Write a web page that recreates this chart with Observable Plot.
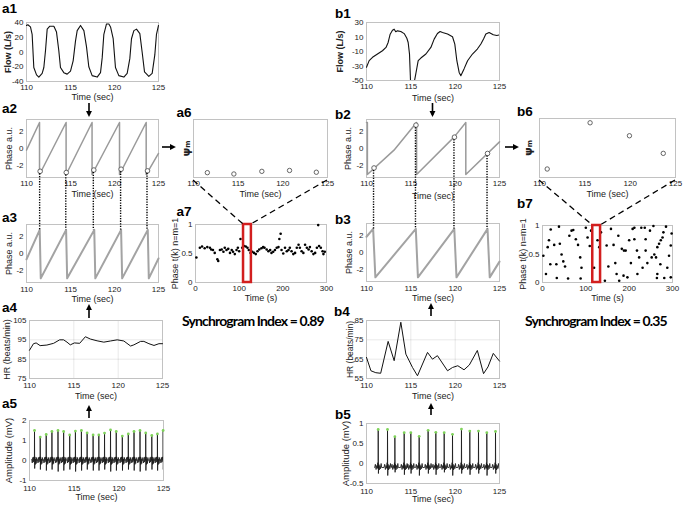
<!DOCTYPE html>
<html><head><meta charset="utf-8">
<script src="https://cdn.jsdelivr.net/npm/d3@7"></script>
<script src="https://cdn.jsdelivr.net/npm/@observablehq/plot@0.6"></script>
<style>
body{margin:0;background:#fff;}
#root{position:relative;width:685px;height:505px;overflow:hidden;font-family:"Liberation Sans",Arial,sans-serif;background:#fff;}
.plab{position:absolute;font-weight:bold;font-size:13.5px;line-height:1;color:#000;}
.sync{position:absolute;font-family:Lato,"Open Sans",sans-serif;font-weight:bold;font-size:14px;line-height:1;letter-spacing:-0.85px;color:#000;white-space:nowrap;}
</style></head><body><div id="root"></div>
<script>
// ---------------- data ----------------
const timeTicks = [110, 115, 120, 125];
// a1 respiratory flow
const a1T = [110,110.15,110.45,110.64,110.83,111.14,111.4,111.78,111.97,112.16,112.35,112.65,113.11,113.41,113.67,113.86,114.24,114.62,115.0,115.3,115.57,115.76,116.14,116.52,116.82,117.08,117.46,118.03,118.41,118.6,118.79,119.09,119.36,119.55,119.85,120.11,120.49,121.06,121.44,121.74,121.93,122.2,122.5,122.88,123.14,123.41,123.9,124.28,124.58,124.77,125];
const a1V = [36,37,34,24,-21,-31,-34,-29,-21,2,31,35,35,27,2,-21,-28,-30,-26,-12,15,29,36,29,7,-20,-32,-34,-28,-8,24,38,38,34,18,-21,-32,-34,-29,-9,18,29,31,25,0,-27,-33,-29,-4,24,36];
// a2 respiratory phase (sawtooth vertices)
const a2T = [110,111.48,111.48,114.5,114.5,117.45,117.45,120.57,120.57,123.6,123.6,125];
const a2P = [-0.2,3.14,-3.14,3.14,-3.14,3.14,-3.14,3.14,-3.14,3.14,-3.14,-0.6];
// heartbeat event times and respiratory phase at those events (a2 circles / a6)
const aEventT = [111.55,114.52,117.65,120.75,123.75];
const aPsi = [-2.75,-2.9,-2.6,-2.5,-2.7];
// a3 cardiac phase
const a3T = [110,111.5,111.62,114.5,114.62,117.7,117.82,120.75,120.87,123.78,123.9,125];
const a3P = [-0.7,2.85,-3.0,2.85,-3.0,2.85,-3.0,2.85,-3.0,2.85,-3.0,-0.6];
// a4 heart rate
const a4T = [110,110.45,110.75,111.2,111.96,112.72,113.4,113.85,114.23,114.6,115.06,115.66,116.3,116.87,117.62,118.38,119.13,119.89,120.64,121.4,121.77,122.53,122.9,123.47,124.04,124.6,125];
const a4V = [89.6,93,93.4,92,92.3,93.2,95,95,93.8,92.4,93.4,93.2,96.6,95.4,94.5,93.8,94.4,95,94.4,91.8,92.4,94.2,94.2,93,92.1,93,93];
// a5 ECG: R-peak times, R amplitudes, S amplitudes, beat morphology
const a5R_T = [110.56,111.2,111.87,112.51,113.19,113.82,114.5,115.14,115.81,116.45,117.12,117.76,118.4,119.07,119.71,120.39,121.06,121.7,122.37,123.01,123.69,124.32,124.96];
const a5R_A = [1.5,1.17,1.3,1.45,1.5,1.45,1.28,1.47,1.5,1.38,1.28,1.28,1.37,1.53,1.45,1.22,1.33,1.45,1.5,1.38,1.25,1.33,1.5];
const a5S_A = [-0.4,-0.45,-0.5,-0.45,-0.55,-0.5,-0.45,-0.55,-0.5,-0.45,-0.5,-0.5,-0.45,-0.55,-0.5,-0.5,-0.45,-0.5,-0.55,-0.5,-0.45,-0.5,-0.45];
const a5ShapeDt = [-0.31,-0.25,-0.19,-0.13,-0.08,-0.035,-0.01,0,0.02,0.045,0.09,0.14,0.19,0.24,0.28];
const a5ShapeV  = [0.05,-0.12,0.15,-0.08,0.18,0.0,0.1,"R","S",0.18,-0.2,0.08,-0.15,0.15,0.0];
// a7 synchrogram
const a7T = [2,10,15,21,27,33,36,40,44,50,52,56,60,64,67,71,75,79,83,86,90,94,97,100,103,107,111,115,119,122,126,130,134,138,142,146,151,155,158,163,167,171,174,178,182,186,190,192,195,197,201,205,209,213,216,220,224,228,232,236,239,243,247,251,255,259,262,266,270,274,278,281,283,287,291,293,296];
const a7P = [0.43,0.60,0.62,0.59,0.61,0.60,0.57,0.56,0.51,0.40,0.37,0.56,0.57,0.53,0.60,0.56,0.58,0.51,0.56,0.53,0.49,0.56,0.60,0.54,0.75,0.60,0.63,0.62,0.60,0.56,0.51,0.53,0.51,0.49,0.54,0.57,0.59,0.61,0.60,0.57,0.54,0.56,0.51,0.53,0.56,0.60,0.61,0.75,0.84,0.56,0.50,0.60,0.54,0.56,0.60,0.54,0.49,0.51,0.60,0.65,0.60,0.54,0.51,0.65,0.60,0.57,0.61,0.54,0.49,0.51,0.60,0.99,0.63,0.60,0.54,0.49,0.53];
const a7Window = [110,128];
const aIndex = "Synchrogram Index = 0.89";

// b1 flow
const b1T = [110,110.3,110.68,111.24,111.8,112.2,112.44,112.67,112.93,113.12,113.3,113.5,113.87,114.25,114.55,114.7,114.85,114.98,115.32,115.45,115.56,115.83,116.13,116.7,117.26,117.63,118.0,118.3,118.57,119.14,119.7,119.96,120.19,120.45,120.64,121.0,121.4,121.95,122.5,122.9,123.2,123.46,123.83,124.3,124.7,125];
const b1V = [-31.8,-22.6,-18,-13.5,-9,-4.4,2.5,13.9,19.4,20.8,17.2,18.5,17.6,14.7,8.3,2.4,-13.6,-56,-56,-48,-41,-22.6,-19,-13.5,-4.4,7.1,14.8,17.6,16.2,14,10.3,0.2,-22.7,-38.8,-43.4,-34,-22.7,-13.5,-6.6,0.3,7.2,14,16.3,13,12,13];
// b2 respiratory phase
const b2T = [110,110.1,110.1,113.1,115.65,115.65,119.9,121.2,121.2,125];
const b2P = [3.14,3.14,-3.14,-0.2,3.14,-3.14,1.4,3.14,-3.14,0.8];
const bEventT = [110.85,115.58,119.92,123.65];
const bPsi = [-2.35,2.82,1.37,-0.6];
// b3 cardiac phase
const b3T = [110,110.75,111.0,115.56,115.8,119.9,120.15,123.65,123.9,125];
const b3P = [1.9,2.85,-3.0,2.85,-3.0,2.85,-3.0,2.85,-3.0,-1.1];
// b4 heart rate
const b4T = [110,110.5,111.05,111.6,112.44,113.12,113.87,114.44,115.19,115.75,116.88,117.44,118.0,119.14,119.7,120.3,121.0,121.6,122.5,123.2,123.7,124.3,125];
const b4V = [65.9,59,58,57.7,74.2,64.2,84.1,67.6,60.7,56.4,68.5,65,66.8,59,60.7,61.6,59.5,62,69.5,57.5,61,68,64];
// b5 ECG
const b5R_T = [111.32,112.37,113.2,114.25,115.0,115.94,116.95,117.82,118.76,119.7,120.71,121.65,122.63,123.57,124.55];
const b5R_A = [0.85,0.85,0.67,0.77,0.77,0.68,0.83,0.78,0.77,0.73,0.86,0.81,0.81,0.77,0.8];
const b5S_A = [-0.25,-0.3,-0.22,-0.28,-0.25,-0.3,-0.25,-0.28,-0.22,-0.3,-0.25,-0.28,-0.25,-0.3,-0.25];
const b5ShapeDt = [-0.4,-0.32,-0.24,-0.16,-0.09,-0.04,-0.012,0,0.025,0.06,0.12,0.19,0.26,0.33,0.39];
const b5ShapeV  = [-0.1,-0.02,-0.15,-0.05,-0.12,0.02,-0.12,"R","S",-0.02,-0.16,-0.05,-0.13,0.0,-0.1];
// b7 synchrogram
const b7T = [2,8,12,15,18,19,27,32,33,38,40,44,48,52,59,62,67,71,77,82,87,88,90,100,104,109,112,119,127,131,135,144,148,152,158,164,168,171,175,177,183,187,188,192,196,200,204,208,212,212,218,219,223,228,231,236,238,238,242,248,252,256,258,262,264,265,265,269,272,273,277,279,281,285,288,292,296,296,298];
const b7P = [0.47,0.15,0.62,0.74,0.32,0.93,0.66,0.32,0.08,0.98,0.68,0.49,0.37,0.28,0.07,0.82,0.91,0.92,0.76,0.66,0.44,0.07,0.26,0.96,0.79,0.64,0.91,0.26,0.74,0.62,0.88,0.03,0.65,0.28,0.94,0.66,0.34,0.15,0.82,0.03,0.59,0.12,0.56,0.56,0.09,0.74,0.34,0.94,0.96,0.76,0.56,0.15,0.44,0.96,0.26,0.96,0.56,0.76,0.34,0.91,0.44,0.99,0.49,0.44,0.08,0.62,0.15,0.68,0.32,0.74,0.79,0.88,0.08,0.98,0.26,0.47,0.65,0.09,0.86];
const b7Window = [116,134];
const bIndex = "Synchrogram Index = 0.35";

// ---------------- helpers ----------------
const root = document.getElementById("root");
const zip = (xs, ys) => xs.map((x, i) => ({x, y: ys[i]}));
function buildEcg(times, rA, sA, dts, vs) {
  const pts = [];
  times.forEach((t, i) => dts.forEach((dt, j) => {
    const v = vs[j] === "R" ? rA[i] : vs[j] === "S" ? sA[i] : vs[j];
    pts.push({x: t + dt, y: v});
  }));
  return pts;
}
const ML = 44, MR = 16, MT = 8, MB = 36;
const fmt = d => String(d);
function panel(o) {
  const W = o.x1 - o.x0, H = o.y1 - o.y0;
  const m = [];
  if (o.grid) {
    m.push(Plot.gridX({ticks: o.xTicks ?? timeTicks, stroke: "#000", strokeOpacity: 0.09}));
    m.push(Plot.gridY({ticks: o.yTicks, stroke: "#000", strokeOpacity: 0.09}));
  }
  m.push(Plot.frame({stroke: "#c2c2c2"}));
  m.push(Plot.axisX({ticks: o.xTicks ?? timeTicks, tickSize: 0, tickPadding: o.xtp ?? 3, tickFormat: fmt, label: null, fontSize: 8}));
  if (o.yTicks && o.yTicks.length) m.push(Plot.axisY({ticks: o.yTicks, tickSize: 0, tickPadding: 3, tickFormat: fmt, label: null, fontSize: 8}));
  m.push(...o.marks);
  if (o.xLabel) m.push(Plot.text([o.xLabel], {text: d => d, frameAnchor: "bottom", dy: o.xld ?? 17, lineAnchor: "middle", textAnchor: "middle", fontSize: 9}));
  if (o.yLabel) m.push(Plot.text([o.yLabel], {text: d => d, frameAnchor: "left", dx: -(o.yld ?? 18), rotate: -90, textAnchor: "middle", lineAnchor: "middle", fontSize: o.ylfs ?? 9, fontWeight: o.ylw ?? "normal", fontFamily: o.ylff}));
  const p = Plot.plot({
    width: W + ML + MR, height: H + MT + MB,
    marginLeft: ML, marginRight: MR, marginTop: MT, marginBottom: MB,
    x: {domain: o.xDomain ?? [110, 125], axis: null},
    y: {domain: o.yDomain, axis: null},
    style: {fontFamily: '"Liberation Sans", Arial, sans-serif', background: "transparent", color: "#222", overflow: "visible"},
    marks: m
  });
  p.style.position = "absolute";
  p.style.left = (o.x0 - ML) + "px";
  p.style.top = (o.y0 - MT) + "px";
  root.append(p);
  const sx = p.scale("x"), sy = p.scale("y");
  return {x: v => o.x0 - ML + sx.apply(v), y: v => o.y0 - MT + sy.apply(v), x0: o.x0, x1: o.x1, y0: o.y0, y1: o.y1};
}
const phaseTicks = [-2, 0, 2];
const sawA = zip(a2T, a2P), sawA3 = zip(a3T, a3P), sawB = zip(b2T, b2P), sawB3 = zip(b3T, b3P);

// ---------------- column a ----------------
panel({x0: 26, x1: 158, y0: 22, y1: 81, yDomain: [-40, 40], yTicks: [-40, -20, 0, 20, 40],
  xLabel: "Time (sec)", xld: 16, yLabel: "Flow (L/s)", yld: 18, ylw: "bold",
  marks: [Plot.line(zip(a1T, a1V), {x: "x", y: "y", stroke: "#111", strokeWidth: 1.1})]});
const A2 = panel({x0: 26, x1: 158, y0: 119, y1: 177, yDomain: [-3.5, 3.5], yTicks: phaseTicks,
  xLabel: "Time (sec)", xld: 17, yLabel: "Phase a.u.", yld: 17,
  marks: [Plot.line(sawA, {x: "x", y: "y", stroke: "#9a9a9a", strokeWidth: 1.5}),
          Plot.dot(zip(aEventT, aPsi), {x: "x", y: "y", r: 2.3, stroke: "#555", strokeWidth: 0.9, fill: "#fff"})]});
const A3 = panel({x0: 26, x1: 158, y0: 224, y1: 282, yDomain: [-3.5, 3.5], yTicks: phaseTicks,
  xLabel: "Time (sec)", xld: 17, xtp: 4, yLabel: "Phase a.u.", yld: 17,
  marks: [Plot.line(sawA3, {x: "x", y: "y", stroke: "#a3a3a3", strokeWidth: 2})]});
panel({x0: 29, x1: 162, y0: 320, y1: 378, yDomain: [75, 105], yTicks: [75, 85, 95, 105], grid: true,
  xLabel: "Time (sec)", xld: 18, xtp: 4, yLabel: "HR (beats/min)", yld: 22,
  marks: [Plot.line(zip(a4T, a4V), {x: "x", y: "y", stroke: "#111", strokeWidth: 1})]});
panel({x0: 29, x1: 163, y0: 420, y1: 480, yDomain: [-1, 2], yTicks: [-1, 0, 1, 2],
  xLabel: "Time (sec)", xld: 16.5, xtp: 5, yLabel: "Amplitude (mV)", yld: 21, ylfs: 9.5,
  marks: [Plot.line(buildEcg(a5R_T, a5R_A, a5S_A, a5ShapeDt, a5ShapeV), {x: "x", y: "y", stroke: "#1a1a1a", strokeWidth: 0.85, clip: true}),
          Plot.dot(zip(a5R_T, a5R_A), {x: "x", y: "y", r: 1.4, fill: "#7fd35a"})]});
const A6 = panel({x0: 193, x1: 327, y0: 119, y1: 177, yDomain: [-3.3, 3.3], yTicks: [],
  xLabel: "Time (sec)", xld: 17, yLabel: "ψₘ", yld: 7, ylw: "bold", ylfs: 11, ylff: "DejaVu Sans",
  marks: [Plot.dot(zip(aEventT, aPsi), {x: "x", y: "y", r: 2.2, stroke: "#555", strokeWidth: 0.9, fill: "#fff"})]});
const A7 = panel({x0: 195, x1: 326, y0: 224, y1: 282, xDomain: [0, 300], xTicks: [0, 100, 200, 300], yDomain: [0, 1], yTicks: [0, 0.5, 1],
  xLabel: "Time (s)", xld: 16, yLabel: "Phase t(k) n=m=1", yld: 20,
  marks: [Plot.dot(zip(a7T, a7P), {x: "x", y: "y", r: 1.3, fill: "#000"}),
          Plot.rect([a7Window], {x1: d => d[0], x2: d => d[1], y1: () => 0, y2: () => 1, fill: "none", stroke: "#d21f1f", strokeWidth: 2.5})]});

// ---------------- column b ----------------
panel({x0: 366, x1: 499, y0: 22, y1: 80, yDomain: [-50, 30], yTicks: [-50, -30, -10, 10, 30],
  xLabel: "Time (sec)", xld: 18, yLabel: "Flow (L/s)", yld: 26, ylw: "bold",
  marks: [Plot.line(zip(b1T, b1V), {x: "x", y: "y", stroke: "#111", strokeWidth: 1.1, clip: true})]});
const B2 = panel({x0: 366, x1: 499, y0: 119, y1: 177, yDomain: [-3.5, 3.5], yTicks: phaseTicks,
  xLabel: "Time (sec)", xld: 19, yLabel: "Phase a.u.", yld: 18,
  marks: [Plot.line(sawB, {x: "x", y: "y", stroke: "#9a9a9a", strokeWidth: 1.5}),
          Plot.dot(zip(bEventT, bPsi), {x: "x", y: "y", r: 2.3, stroke: "#555", strokeWidth: 0.9, fill: "#fff"})]});
const B3 = panel({x0: 366, x1: 499, y0: 223, y1: 281, yDomain: [-3.5, 3.5], yTicks: phaseTicks,
  xLabel: "Time (sec)", xld: 17, xtp: 4, yLabel: "Phase a.u.", yld: 17,
  marks: [Plot.line(sawB3, {x: "x", y: "y", stroke: "#a3a3a3", strokeWidth: 2})]});
panel({x0: 366, x1: 499, y0: 320, y1: 378, yDomain: [55, 85], yTicks: [55, 65, 75, 85], grid: true,
  xLabel: "Time (sec)", xld: 18, xtp: 4, yLabel: "HR (beats/min)", yld: 16, ylfs: 8.5,
  marks: [Plot.line(zip(b4T, b4V), {x: "x", y: "y", stroke: "#111", strokeWidth: 1})]});
panel({x0: 366, x1: 499, y0: 423, y1: 483, yDomain: [-0.5, 1], yTicks: [-0.5, 0, 0.5, 1],
  xLabel: "Time (sec)", xld: 16, xtp: 5, yLabel: "Amplitude (mV)", yld: 21, ylfs: 9.5,
  marks: [Plot.line(buildEcg(b5R_T, b5R_A, b5S_A, b5ShapeDt, b5ShapeV), {x: "x", y: "y", stroke: "#1a1a1a", strokeWidth: 0.85, clip: true}),
          Plot.dot(zip(b5R_T, b5R_A), {x: "x", y: "y", r: 1.4, fill: "#7fd35a"})]});
const B6 = panel({x0: 539, x1: 675, y0: 118, y1: 177, yDomain: [-3.3, 3.3], yTicks: [],
  xLabel: "Time (sec)", xld: 17, yLabel: "ψₘ", yld: 11, ylw: "bold", ylfs: 11, ylff: "DejaVu Sans",
  marks: [Plot.dot(zip(bEventT, bPsi), {x: "x", y: "y", r: 2.2, stroke: "#555", strokeWidth: 0.9, fill: "#fff"})]});
const B7 = panel({x0: 542, x1: 672, y0: 225, y1: 282, xDomain: [0, 300], xTicks: [0, 100, 200, 300], yDomain: [0, 1], yTicks: [0, 0.5, 1],
  xLabel: "Time (s)", xld: 16, yLabel: "Phase t(k) n=m=1", yld: 19,
  marks: [Plot.dot(zip(b7T, b7P), {x: "x", y: "y", r: 1.3, fill: "#000"}),
          Plot.rect([b7Window], {x1: d => d[0], x2: d => d[1], y1: () => 0, y2: () => 1, fill: "none", stroke: "#d21f1f", strokeWidth: 2.5})]});

// ---------------- panel letters & index text ----------------
const letters = [["a1",2,1.5],["a2",2,102],["a3",2,211],["a4",2,301],["a5",2,397],["a6",176.5,106],["a7",176.5,205],
  ["b1",335,6.5],["b2",335,108],["b3",335,213],["b4",334,305],["b5",335,408],["b6",517,105],["b7",517,197]];
letters.forEach(([t, x, y]) => {
  const d = document.createElement("div"); d.className = "plab"; d.textContent = t;
  d.style.left = x + "px"; d.style.top = y + "px"; root.append(d);
});
[[aIndex, 182], [bIndex, 525]].forEach(([t, x]) => {
  const d = document.createElement("div"); d.className = "sync"; d.textContent = t;
  d.style.left = x + "px"; d.style.top = "314px"; root.append(d);
});

// ---------------- connectors overlay ----------------
const ov = d3.select(root).append("svg").attr("width", 685).attr("height", 505)
  .style("position", "absolute").style("left", 0).style("top", 0).style("pointer-events", "none");
ov.append("defs").append("marker").attr("id", "ah").attr("viewBox", "0 0 10 10").attr("refX", 7).attr("refY", 5)
  .attr("markerWidth", 4).attr("markerHeight", 4).attr("orient", "auto")
  .append("path").attr("d", "M0,0L10,5L0,10z").attr("fill", "#000");
const arrows = [[89,103,89,115],[432.5,103,432.5,115],[162,147,174,147],[505,147,517,147],
  [89,318,89,306],[431,316,431,305],[89,418,89,407],[431,415,431,405]];
arrows.forEach(([x1, y1, x2, y2]) => ov.append("line").attr("x1", x1).attr("y1", y1).attr("x2", x2).attr("y2", y2)
  .attr("stroke", "#000").attr("stroke-width", 1.6).attr("marker-end", "url(#ah)"));
function dotted(P2, P3, ts, ps) {
  ts.forEach((t, i) => ov.append("line").attr("x1", P2.x(t)).attr("x2", P3.x(t))
    .attr("y1", P2.y(ps[i]) + 2.5).attr("y2", P3.y(2.85))
    .attr("stroke", "#000").attr("stroke-width", 1.4).attr("stroke-dasharray", "1.3,1.3"));
}
dotted(A2, A3, aEventT, aPsi);
dotted(B2, B3, bEventT, bPsi);
function dashed(P6, P7, win) {
  [[110, win[0]], [125, win[1]]].forEach(([t, w]) => ov.append("line")
    .attr("x1", P6.x(t)).attr("y1", P6.y1 + 3).attr("x2", P7.x(w)).attr("y2", P7.y(1))
    .attr("stroke", "#000").attr("stroke-width", 1.3).attr("stroke-dasharray", "6,4"));
}
dashed(A6, A7, a7Window);
dashed(B6, B7, b7Window);
</script></body></html>
